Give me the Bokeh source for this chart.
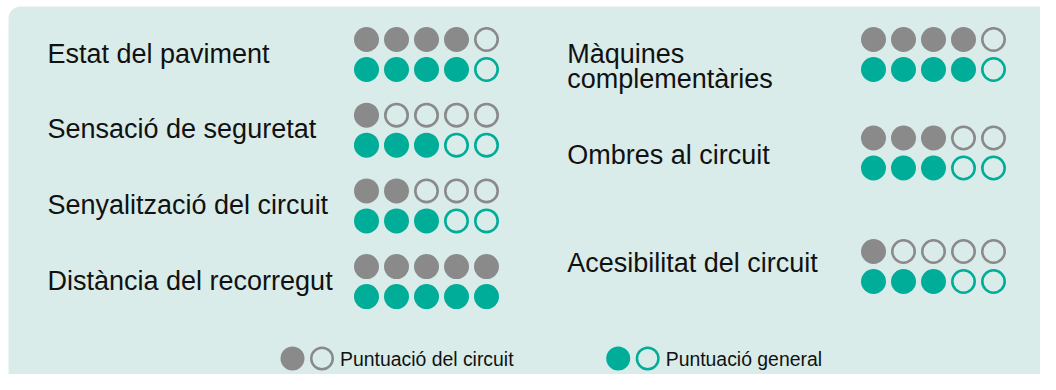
from bokeh.plotting import figure
from bokeh.models import Range1d, BoxAnnotation, ColumnDataSource
from bokeh.core.properties import value
from bokeh.embed import file_html
from bokeh.resources import INLINE

# ---- data ----
left_categories = ["Estat del paviment", "Sensació de seguretat",
                   "Senyalització del circuit", "Distància del recorregut"]
left_circuit = [4, 1, 2, 5]
left_general = [4, 3, 3, 5]

right_categories = ["Màquines\ncomplementàries", "Ombres al circuit",
                    "Acesibilitat del circuit"]
right_circuit = [4, 3, 1]
right_general = [4, 3, 3]

legend_labels = ["Puntuació del circuit", "Puntuació general"]
max_score = 5

# ---- style / layout ----
GRAY = "#8a8a8a"
TEAL = "#00ad98"
PANEL = "#d9ecea"
TEXT = "#111111"
FONT = "Liberation Sans"
LABEL_FS = 27
LEGEND_FS = 19.4
BASE_FIX = 0.35  # renderer places 'alphabetic' text lower by about this many em

W, H = 1040, 374
p = figure(width=W, height=H, x_range=Range1d(0, W), y_range=Range1d(H, 0),
           output_backend="svg", toolbar_location=None, min_border=0,
           background_fill_color="white", border_fill_color="white")
p.axis.visible = False
p.grid.visible = False
p.outline_line_color = None

p.add_layout(BoxAnnotation(left=8, right=1052, top=6, bottom=400, border_radius=12,
                           fill_color=PANEL, fill_alpha=1.0, line_color=None,
                           level="underlay"))

left_dot_x0, right_dot_x0, dot_dx = 366, 873, 30
left_rows_y = [39 + 75.7 * i for i in range(len(left_categories))]
right_rows_y = [39, 137.5, 251]
right_label_base = [62.7, 164, 271.7]
pair_dy = 30


def dots(x0, rows_y, circuit, general):
    filled = {"x": [], "y": [], "c": []}
    empty = {"x": [], "y": [], "c": []}
    for ry, sc, sg in zip(rows_y, circuit, general):
        for score, yy, col in ((sc, ry, GRAY), (sg, ry + pair_dy, TEAL)):
            for i in range(max_score):
                d = filled if i < score else empty
                d["x"].append(x0 + i * dot_dx)
                d["y"].append(yy)
                d["c"].append(col)
    return filled, empty


for x0, rows_y, c, g in ((left_dot_x0, left_rows_y, left_circuit, left_general),
                         (right_dot_x0, right_rows_y, right_circuit, right_general)):
    f, e = dots(x0, rows_y, c, g)
    p.scatter("x", "y", size=25, fill_color="c", line_color=None,
              source=ColumnDataSource(f))
    p.scatter("x", "y", size=22.4, fill_color=None, line_color="c", line_width=2.6,
              source=ColumnDataSource(e))

# labels
fix = BASE_FIX * LABEL_FS
lx, ly, lt = [], [], []
for cat, ry in zip(left_categories, left_rows_y):
    lx.append(47); ly.append(ry + pair_dy / 2 + 8.7 - fix); lt.append(cat)
for cat, base in zip(right_categories, right_label_base):
    for k, line in enumerate(cat.split("\n")):
        lx.append(566.7); ly.append(base + k * 25 - fix); lt.append(line)
p.text(x=lx, y=ly, text=lt, text_font=value(FONT), text_font_size=f"{LABEL_FS}px",
       text_baseline="alphabetic", text_align="left", text_color=TEXT)

# legend
leg_cx = [292, 617.7]
leg_cols = [GRAY, TEAL]
leg_y = 358
p.scatter(x=leg_cx, y=[leg_y] * 2, size=24, fill_color=leg_cols, line_color=None)
p.scatter(x=[c + 29.5 for c in leg_cx], y=[leg_y] * 2, size=21.5, fill_color=None,
          line_color=leg_cols, line_width=2.5)
p.text(x=[c + 47.5 for c in leg_cx], y=[365 - BASE_FIX * LEGEND_FS] * 2,
       text=legend_labels, text_font=value(FONT), text_font_size=f"{LEGEND_FS}px",
       text_baseline="alphabetic", text_align="left", text_color=TEXT)

open("out.html", "w").write(file_html(p, INLINE))
